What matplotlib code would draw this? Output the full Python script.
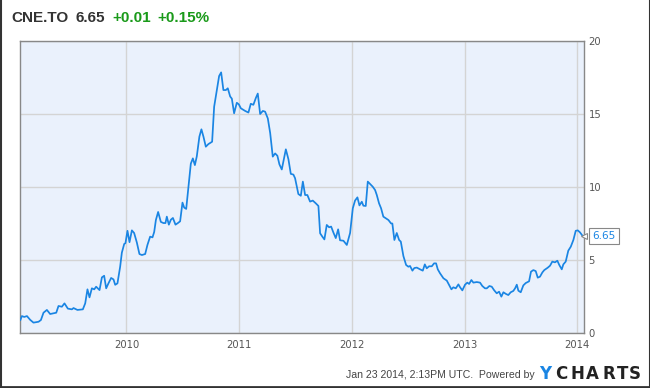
import matplotlib
matplotlib.use("Agg")
import matplotlib.pyplot as plt
from matplotlib.lines import Line2D

# ---- data (decimal years, price) ----
years = [
    2009.059, 2009.072, 2009.093, 2009.117, 2009.146, 2009.175, 2009.220, 2009.241,
    2009.264, 2009.294, 2009.323, 2009.377, 2009.397, 2009.427, 2009.450, 2009.480,
    2009.516, 2009.530, 2009.565, 2009.613, 2009.634, 2009.654, 2009.672, 2009.693,
    2009.714, 2009.731, 2009.761, 2009.782, 2009.802, 2009.820, 2009.840, 2009.864,
    2009.885, 2009.900, 2009.920, 2009.944, 2009.959, 2009.980, 2009.991, 2010.009,
    2010.027, 2010.048, 2010.068, 2010.092, 2010.115, 2010.137, 2010.166, 2010.186,
    2010.210, 2010.231, 2010.246, 2010.261, 2010.281, 2010.305, 2010.328, 2010.346,
    2010.358, 2010.376, 2010.394, 2010.412, 2010.435, 2010.456, 2010.476, 2010.497,
    2010.512, 2010.530, 2010.550, 2010.571, 2010.589, 2010.607, 2010.624, 2010.647,
    2010.665, 2010.683, 2010.704, 2010.727, 2010.760, 2010.778, 2010.802, 2010.822,
    2010.840, 2010.860, 2010.882, 2010.899, 2010.920, 2010.935, 2010.955, 2010.979,
    2010.997, 2011.015, 2011.053, 2011.082, 2011.103, 2011.126, 2011.148, 2011.165,
    2011.186, 2011.210, 2011.230, 2011.254, 2011.275, 2011.298, 2011.319, 2011.339,
    2011.357, 2011.378, 2011.399, 2011.414, 2011.437, 2011.458, 2011.481, 2011.496,
    2011.525, 2011.547, 2011.565, 2011.585, 2011.605, 2011.629, 2011.653, 2011.680,
    2011.703, 2011.718, 2011.738, 2011.756, 2011.777, 2011.798, 2011.816, 2011.836,
    2011.857, 2011.878, 2011.895, 2011.925, 2011.955, 2011.984, 2012.008, 2012.028,
    2012.049, 2012.067, 2012.088, 2012.102, 2012.123, 2012.141, 2012.161, 2012.185,
    2012.206, 2012.221, 2012.241, 2012.259, 2012.279, 2012.303, 2012.324, 2012.348,
    2012.359, 2012.377, 2012.398, 2012.419, 2012.434, 2012.457, 2012.481, 2012.501,
    2012.516, 2012.537, 2012.554, 2012.576, 2012.605, 2012.629, 2012.647, 2012.664,
    2012.685, 2012.709, 2012.729, 2012.747, 2012.762, 2012.782, 2012.812, 2012.842,
    2012.862, 2012.883, 2012.900, 2012.922, 2012.945, 2012.960, 2012.980, 2013.004,
    2013.024, 2013.040, 2013.060, 2013.078, 2013.108, 2013.137, 2013.157, 2013.181,
    2013.197, 2013.220, 2013.241, 2013.261, 2013.285, 2013.306, 2013.326, 2013.344,
    2013.368, 2013.388, 2013.409, 2013.432, 2013.448, 2013.463, 2013.477, 2013.498,
    2013.521, 2013.542, 2013.572, 2013.589, 2013.610, 2013.631, 2013.649, 2013.669,
    2013.690, 2013.707, 2013.737, 2013.758, 2013.778, 2013.802, 2013.823, 2013.840,
    2013.862, 2013.876, 2013.897, 2013.920, 2013.942, 2013.965, 2013.986, 2014.004,
    2014.024, 2014.048, 2014.062,
]
prices = [
    0.89, 1.16, 1.10, 1.16, 0.90, 0.71, 0.77, 0.89,
    1.39, 1.58, 1.30, 1.39, 1.85, 1.80, 2.03, 1.67,
    1.62, 1.71, 1.58, 1.62, 2.03, 2.99, 2.44, 3.06,
    2.99, 3.17, 2.94, 3.81, 3.92, 3.06, 3.40, 3.77,
    3.67, 3.30, 3.40, 4.54, 5.50, 6.10, 6.15, 7.00,
    6.22, 7.03, 6.85, 6.20, 5.41, 5.34, 5.41, 6.03,
    6.60, 6.55, 6.92, 7.74, 8.29, 7.61, 7.53, 7.53,
    7.97, 7.42, 7.76, 7.88, 7.42, 7.53, 7.65, 8.93,
    8.59, 8.50, 10.00, 11.60, 11.96, 11.50, 12.10, 13.45,
    13.95, 13.45, 12.76, 12.94, 13.10, 15.50, 16.64, 17.60,
    17.85, 16.64, 16.64, 16.76, 16.20, 16.05, 15.05, 15.77,
    15.66, 15.39, 15.21, 15.10, 15.70, 15.63, 16.10, 16.40,
    15.00, 15.21, 15.16, 14.70, 13.70, 12.08, 12.30, 12.14,
    11.55, 11.20, 12.00, 12.58, 11.90, 10.90, 10.85, 10.60,
    9.52, 9.40, 10.37, 9.45, 9.45, 9.00, 9.07, 8.88,
    8.70, 6.83, 6.60, 6.41, 7.40, 7.24, 7.29, 6.88,
    6.50, 7.10, 6.35, 6.32, 6.03, 6.85, 8.54, 9.07,
    9.29, 8.74, 8.99, 8.72, 8.70, 10.37, 10.21, 10.02,
    9.79, 9.45, 8.88, 8.54, 7.97, 7.85, 7.74, 7.50,
    7.50, 6.37, 6.85, 6.37, 6.26, 5.27, 4.66, 4.54,
    4.59, 4.27, 4.45, 4.48, 4.36, 4.27, 4.70, 4.43,
    4.57, 4.57, 4.77, 4.77, 4.36, 4.09, 3.75, 3.59,
    3.29, 2.99, 3.13, 3.06, 3.33, 3.13, 2.92, 3.31,
    3.45, 3.36, 3.63, 3.45, 3.49, 3.45, 3.22, 3.06,
    3.06, 3.22, 3.17, 2.94, 2.72, 2.83, 2.49, 2.79,
    2.67, 2.60, 2.79, 2.88, 3.06, 3.31, 2.90, 2.79,
    3.26, 3.42, 3.54, 4.20, 4.31, 4.24, 3.79, 3.86,
    4.15, 4.31, 4.47, 4.61, 4.89, 4.84, 4.95, 4.66,
    4.36, 4.70, 4.89, 5.64, 5.91, 6.37, 7.00, 7.03,
    6.89, 6.64, 6.65,
]
x_ticks = [2010, 2011, 2012, 2013, 2014]
x_labels = ["2010", "2011", "2012", "2013", "2014"]
y_ticks = [0, 5, 10, 15, 20]
y_labels = ["0", "5", "10", "15", "20"]
ticker = "CNE.TO"
last_price = "6.65"
change = "+0.01"
change_pct = "+0.15%"
footer = "Jan 23 2014, 2:13PM UTC.  Powered by"
logo_letters = ["Y", "C", "H", "A", "R", "T", "S"]

W, H = 650, 388
fig = plt.figure(figsize=(W / 100, H / 100), dpi=100)
fig.patch.set_facecolor("white")

# plot area: x 19.5..584.3, y 41..333 (pixels from top)
left, right, top, bottom = 19.5, 584.3, 41, 333
ax = fig.add_axes([left / W, 1 - bottom / H, (right - left) / W, (bottom - top) / H])
ax.set_facecolor("#eaf1fc")
ax.plot(years, prices, color="#1a85e3", lw=1.25, solid_joinstyle="round", zorder=3)
ax.set_xlim(2009.051, 2014.062)
ax.set_ylim(0, 20)
ax.set_xticks(x_ticks)
ax.set_xticklabels(x_labels)
ax.set_yticks(y_ticks)
ax.set_yticklabels(y_labels)
ax.yaxis.tick_right()
ax.tick_params(axis="both", length=0, labelsize=7.2, labelcolor="#555555")
ax.tick_params(axis="x", pad=5)
ax.tick_params(axis="y", pad=3)
ax.grid(True, color="#d4d4d4", lw=1.0, zorder=0)
for s in ax.spines.values():
    s.set_color("#888888")
    s.set_linewidth(1.0)

# last price label
ax.annotate(last_price, xy=(years[-1], prices[-1]), xycoords="data",
            xytext=(6.0, 0), textcoords="offset points",
            ha="left", va="center", fontsize=7.5, color="#1a85e3",
            bbox=dict(boxstyle="square,pad=0.32", fc="white", ec="#888888", lw=0.8),
            annotation_clip=False, zorder=5)
ax.plot([years[-1]], [prices[-1]], marker="<", markersize=5, mfc="white",
        mec="#888888", mew=0.8, clip_on=False, zorder=6)

# title
ty = 1 - 17.5 / H
fs = 11
tf = "Liberation Sans"
fig.text(11 / W, ty, ticker, fontsize=fs, fontweight="bold", color="#333333", va="center", ha="left", family=tf)
fig.text(76 / W, ty, last_price, fontsize=fs, fontweight="bold", color="#333333", va="center", ha="left", family=tf)
fig.text(112 / W, ty, change, fontsize=fs, fontweight="bold", color="#1a9a1a", va="center", ha="left", family=tf)
fig.text(157 / W, ty, change_pct, fontsize=fs, fontweight="bold", color="#1a9a1a", va="center", ha="left", family=tf)

# footer
fy = 1 - 375 / H
fig.text(346 / W, fy, footer, fontsize=7.6, color="#444444", va="center", ha="left",
         family="Liberation Sans")
logo_x = [545.5, 561.5, 577.3, 592.8, 609.0, 622.5, 635.0]
for i, (ch, lx) in enumerate(zip(logo_letters, logo_x)):
    fig.text(lx / W, 1 - 374 / H, ch, fontsize=12, fontweight="heavy",
             color="#1a85e3" if i == 0 else "#222222", va="center", ha="center")

# outer frame
fig.add_artist(Line2D([0.5 / W, 0.5 / W], [0, 1], color="#333333", lw=1.5))
fig.add_artist(Line2D([1 - 0.5 / W, 1 - 0.5 / W], [0, 1], color="#333333", lw=1.5))
fig.add_artist(Line2D([0, 1], [1 / H, 1 / H], color="#333333", lw=2))

fig.savefig("out.png", dpi=100, facecolor="white")
